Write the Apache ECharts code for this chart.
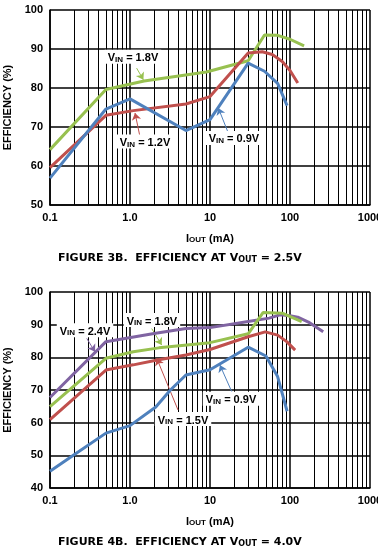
<!DOCTYPE html>
<html><head><meta charset="utf-8">
<script src="https://cdn.jsdelivr.net/npm/echarts@6/dist/echarts.min.js"></script>
<style>html,body{margin:0;padding:0;background:#fff}#c{width:378px;height:551px}</style>
</head><body><div id="c"></div>
<script>
// ---- tick labels ----
const xTickLabels = ['0.1', '1.0', '10', '100', '1000'];
const minorMultipliers = [2, 3, 4, 5, 6, 7, 8, 9];
const decades = [0.1, 1, 10, 100];

// ---- Figure 3B (VOUT = 2.5V) ----
const f3_vin18_x = [0.1, 0.5, 1.5, 9, 30, 48, 70, 100, 150];
const f3_vin18_y = [64.2, 79.6, 81.8, 84.1, 87.0, 93.6, 93.5, 92.5, 90.8];
const f3_vin12_x = [0.1, 0.5, 1.1, 5, 10, 30, 45, 60, 80, 100, 125];
const f3_vin12_y = [59.6, 73.0, 74.2, 75.9, 77.8, 89.0, 89.3, 88.6, 86.8, 84.5, 81.3];
const f3_vin09_x = [0.1, 0.5, 1.0, 5, 10, 30, 48, 70, 92];
const f3_vin09_y = [56.9, 74.6, 77.2, 69.1, 71.9, 86.4, 84.3, 81.2, 75.5];

// ---- Figure 4B (VOUT = 4.0V) ----
const f4_vin24_x = [0.1, 0.5, 2, 5, 10, 30, 55, 75, 100, 125, 170, 260];
const f4_vin24_y = [67.7, 84.8, 87.3, 88.8, 89.1, 91.0, 92.0, 93.0, 92.7, 92.3, 90.8, 87.8];
const f4_vin18_x = [0.1, 0.5, 1.1, 2.3, 10, 30, 46, 80, 140];
const f4_vin18_y = [64.9, 79.7, 81.7, 82.9, 84.5, 87.2, 93.7, 93.5, 90.9];
const f4_vin15_x = [0.1, 0.5, 1.1, 2.2, 5, 10, 30, 49, 70, 91, 116];
const f4_vin15_y = [60.9, 76.1, 77.7, 79.2, 80.7, 82.4, 86.3, 87.8, 86.8, 84.8, 82.2];
const f4_vin09_x = [0.1, 0.2, 0.5, 1.0, 2.1, 3.2, 5, 10, 30, 50, 70, 92];
const f4_vin09_y = [45.1, 50.2, 56.8, 59.1, 64.8, 70.0, 74.6, 76.2, 83.1, 80.4, 74.1, 63.5];

// ---- annotations: label text, label position, arrow start, arrow tip ----
const f3_labels = [
  {v: '1.8V', c: '#98C150', at: [1.09, 88.0], from: [1.21, 85.1], to: [1.47, 82.1]},
  {v: '1.2V', c: '#C0504D', at: [1.54, 66.3], from: [1.33, 67.6], to: [1.155, 73.6]},
  {v: '0.9V', c: '#4F81BD', at: [19.9, 67.2], from: [16.9, 68.5], to: [12.7, 74.9]}
];
const f4_labels = [
  {v: '2.4V', c: '#8064A2', at: [0.274, 88.3], from: [0.288, 85.8], to: [0.365, 81.7]},
  {v: '1.8V', c: '#98C150', at: [1.88, 91.4], from: [1.87, 88.8], to: [2.49, 83.75]},
  {v: '1.5V', c: '#C0504D', at: [4.6, 61.1], from: [3.98, 63.9], to: [2.16, 79.7]},
  {v: '0.9V', c: '#4F81BD', at: [18.3, 67.3], from: [18.7, 69.5], to: [13.3, 77.65]}
];

const FONT = '"Liberation Sans", Arial, sans-serif';
const COLORS = {green: '#98C150', red: '#C0504D', blue: '#4F81BD', purple: '#8064A2'};

const minorGrid = [];
decades.forEach(d => minorMultipliers.forEach(m => minorGrid.push(+(d * m).toPrecision(3))));

const richSub = {
  v: {fontSize: 11, fontWeight: 'bold', fontFamily: FONT, color: '#000', lineHeight: 14, verticalAlign: 'bottom'},
  s: {fontSize: 8, fontWeight: 'bold', fontFamily: FONT, color: '#000', lineHeight: 9, verticalAlign: 'bottom'}
};
const richTitle = {
  v: {fontSize: 11, fontWeight: 'bold', fontFamily: '"DejaVu Sans", sans-serif', color: '#000', lineHeight: 14, verticalAlign: 'bottom'},
  s: {fontSize: 8, fontWeight: 'bold', fontFamily: '"DejaVu Sans", sans-serif', color: '#000', lineHeight: 9, verticalAlign: 'bottom'}
};

function curve(xs, ys, color, gi) {
  return {
    type: 'line', xAxisIndex: gi, yAxisIndex: gi, z: 5, silent: true,
    data: xs.map((x, i) => [x, ys[i]]), showSymbol: false, symbol: 'none',
    lineStyle: {width: 3, color: color}, itemStyle: {color: color}, animation: false
  };
}
function minorSeries(gi) {
  return {
    type: 'line', xAxisIndex: gi, yAxisIndex: gi, z: 1, data: [], silent: true,
    markLine: {
      silent: true, symbol: 'none', animation: false, label: {show: false},
      lineStyle: {color: '#000', width: 1, type: 'solid'},
      data: minorGrid.map(v => ({xAxis: v}))
    }
  };
}
function annoSeries(list, gi) {
  const out = [];
  list.forEach(a => {
    out.push({
      type: 'line', xAxisIndex: gi, yAxisIndex: gi, z: 6, data: [], silent: true,
      markLine: {
        silent: true, animation: false, symbol: ['none', 'arrow'], symbolSize: 7,
        label: {show: false},
        lineStyle: {color: a.c, width: 1, type: 'solid'},
        data: [[{coord: a.from}, {coord: a.to}]]
      }
    });
  });
  out.push({
    type: 'line', xAxisIndex: gi, yAxisIndex: gi, z: 8, data: [], silent: true,
    markPoint: {
      silent: true, animation: false, symbol: 'rect', symbolSize: 0,
      data: list.map(a => ({coord: a.at, value: a.v})),
      label: {
        show: true, position: 'inside', backgroundColor: '#fff', padding: [0, 3, 0, 3],
        formatter: p => '{v|V}{s|IN}{v| = ' + p.value + '}', rich: richSub
      }
    }
  });
  return out;
}

function xAxis(gi) {
  return {
    type: 'log', logBase: 10, min: 0.1, max: 1000, gridIndex: gi,
    name: '{v|I}{s|OUT}{v| (mA)}', nameLocation: 'middle', nameGap: 25,
    nameTextStyle: {rich: richSub},
    axisLine: {lineStyle: {color: '#000', width: 1.5}},
    axisTick: {show: false},
    axisLabel: {margin: 7, color: '#000', fontSize: 11, fontWeight: 'bold', fontFamily: FONT,
      formatter: (v, i) => xTickLabels[i] !== undefined ? xTickLabels[i] : ''},
    splitLine: {show: true, lineStyle: {color: '#000', width: 1.5}},
    minorTick: {show: false}, minorSplitLine: {show: false}
  };
}
function yAxis(gi, min) {
  return {
    type: 'value', min: min, max: 100, interval: 10, gridIndex: gi,
    name: 'EFFICIENCY (%)', nameLocation: 'middle', nameGap: 30, nameRotate: 90,
    nameTextStyle: {color: '#000', fontSize: 11, fontWeight: 'bold', fontFamily: FONT},
    axisLine: {show: true, lineStyle: {color: '#000', width: 1.5}},
    axisTick: {show: false},
    axisLabel: {margin: 7, color: '#000', fontSize: 11, fontWeight: 'bold', fontFamily: FONT},
    splitLine: {show: true, lineStyle: {color: '#000', width: 1.5}}
  };
}

const chart = echarts.init(document.getElementById('c'), null, {renderer: 'canvas'});
chart.setOption({
  animation: false,
  backgroundColor: '#fff',
  title: [
    {text: '{v|FIGURE 3B.  EFFICIENCY AT V}{s|OUT}{v| = 2.5V}', left: 58, top: 250, textStyle: {rich: richTitle}, padding: 0},
    {text: '{v|FIGURE 4B.  EFFICIENCY AT V}{s|OUT}{v| = 4.0V}', left: 58, top: 534, textStyle: {rich: richTitle}, padding: 0}
  ],
  grid: [
    {left: 50, top: 10, width: 320, height: 195, containLabel: false, outerBoundsMode: 'none'},
    {left: 50, top: 292, width: 320, height: 196, containLabel: false, outerBoundsMode: 'none'}
  ],
  xAxis: [xAxis(0), xAxis(1)],
  yAxis: [yAxis(0, 50), yAxis(1, 40)],
  series: [
    minorSeries(0), minorSeries(1),
    curve(f3_vin18_x, f3_vin18_y, COLORS.green, 0),
    curve(f3_vin12_x, f3_vin12_y, COLORS.red, 0),
    curve(f3_vin09_x, f3_vin09_y, COLORS.blue, 0),
    curve(f4_vin24_x, f4_vin24_y, COLORS.purple, 1),
    curve(f4_vin18_x, f4_vin18_y, COLORS.green, 1),
    curve(f4_vin15_x, f4_vin15_y, COLORS.red, 1),
    curve(f4_vin09_x, f4_vin09_y, COLORS.blue, 1)
  ].concat(annoSeries(f3_labels, 0), annoSeries(f4_labels, 1))
});
</script></body></html>
